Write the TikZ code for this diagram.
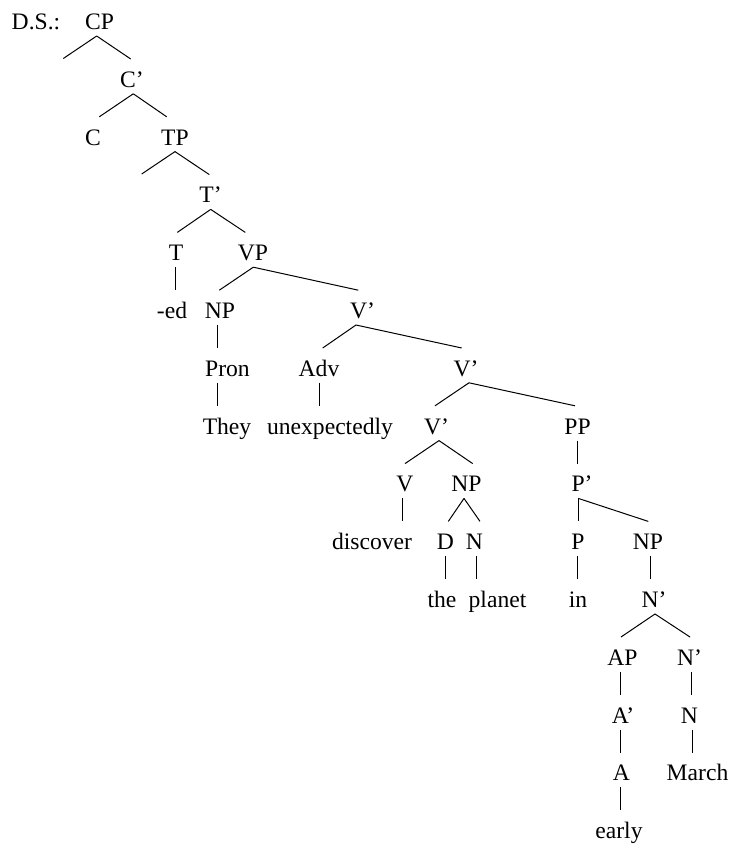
\documentclass[tikz,border=0pt]{standalone}
\usepackage{fontspec}
\setmainfont{Liberation Serif}
\begin{document}
\begin{tikzpicture}[x=1pt,y=-1pt,
  lbl/.style={anchor=base,inner sep=0pt,font=\fontsize{23.6}{28}\selectfont},
  edge/.style={line width=1pt,line cap=butt}]
\useasboundingbox (0,0) rectangle (732,848);
\def\rw#1{29.5+57.8*#1}
% row 0
\node[lbl] (ds) at (36,{\rw{0}}) {D.S.:};
\node[lbl] (cp) at (99.5,{\rw{0}}) {CP};
% row 1
\node[lbl] (cbar) at (132,{\rw{1}}) {C’};
% row 2
\node[lbl] (c) at (93,{\rw{2}}) {C};
\node[lbl] (tp) at (175,{\rw{2}}) {TP};
% row 3
\node[lbl] (tbar) at (210.5,{\rw{3}}) {T’};
% row 4
\node[lbl] (t) at (176,{\rw{4}}) {T};
\node[lbl] (vp) at (253,{\rw{4}}) {VP};
% row 5
\node[lbl] (ed) at (172,{\rw{5}}) {-ed};
\node[lbl] (np1) at (220,{\rw{5}}) {NP};
\node[lbl] (vbar1) at (362.5,{\rw{5}}) {V’};
% row 6
\node[lbl] (pron) at (227.5,{\rw{6}}) {Pron};
\node[lbl] (adv) at (319,{\rw{6}}) {Adv};
\node[lbl] (vbar2) at (466,{\rw{6}}) {V’};
% row 7
\node[lbl] (they) at (227,{\rw{7}}) {They};
\node[lbl] (unexp) at (330,{\rw{7}}) {unexpectedly};
\node[lbl] (vbar3) at (436.5,{\rw{7}}) {V’};
\node[lbl] (pp) at (577.5,{\rw{7}}) {PP};
% row 8
\node[lbl] (v) at (405,{\rw{8}}) {V};
\node[lbl] (np2) at (466.5,{\rw{8}}) {NP};
\node[lbl] (pbar) at (582,{\rw{8}}) {P’};
% row 9
\node[lbl] (discover) at (372,{\rw{9}}) {discover};
\node[lbl] (d) at (445.5,{\rw{9}}) {D};
\node[lbl] (n1) at (474.5,{\rw{9}}) {N};
\node[lbl] (p) at (578,{\rw{9}}) {P};
\node[lbl] (np3) at (648,{\rw{9}}) {NP};
% row 10
\node[lbl] (the) at (442,{\rw{10}}) {the};
\node[lbl] (planet) at (497.5,{\rw{10}}) {planet};
\node[lbl] (in) at (578,{\rw{10}}) {in};
\node[lbl] (nbar1) at (654,{\rw{10}}) {N’};
% row 11
\node[lbl] (ap) at (622.5,{\rw{11}}) {AP};
\node[lbl] (nbar2) at (689.5,{\rw{11}}) {N’};
% row 12
\node[lbl] (abar) at (623,{\rw{12}}) {A’};
\node[lbl] (n2) at (689.5,{\rw{12}}) {N};
% row 13
\node[lbl] (a) at (621.5,{\rw{13}}) {A};
\node[lbl] (march) at (697.5,{\rw{13}}) {March};
% row 14
\node[lbl] (early) at (619,{\rw{14}}) {early};
% empty specifier ends
\coordinate (cpspec) at (63.3,58.5);
\coordinate (tpspec) at (141.7,174);
% branches: \br{parent}{dx parent}{child}{dx child}
\newcommand\br[4]{\draw[edge] ([shift={(#2,6.5)}]#1.base) -- ([shift={(#4,-28.3)}]#3.base);}
\draw[edge] ([shift={(-2.8,6.5)}]cp.base) -- (cpspec);
\br{cp}{-2.8}{cbar}{-1.3}
\br{cbar}{1.3}{c}{6.3}
\br{cbar}{1.3}{tp}{-8.3}
\draw[edge] ([shift={(0,6.5)}]tp.base) -- (tpspec);
\br{tp}{0}{tbar}{-1.2}
\br{tbar}{0.2}{t}{1.3}
\br{tbar}{0.2}{vp}{-7.7}
\br{t}{-0.3}{ed}{3.7}
\br{vp}{0.3}{np1}{-0.7}
\br{vp}{0.3}{vbar1}{-4.2}
\br{np1}{-2.7}{pron}{-10.2}
\br{vbar1}{-6.5}{adv}{3.7}
\br{vbar1}{-6.5}{vbar2}{-4.3}
\br{pron}{-10.2}{they}{-9.7}
\br{adv}{0.3}{unexp}{-10.7}
\br{vbar2}{3}{vbar3}{-1.5}
\br{vbar2}{3}{pp}{-2.5}
\br{vbar3}{2.5}{v}{0}
\br{vbar3}{2.5}{np2}{6.2}
\br{pp}{0.2}{pbar}{-4.3}
\br{v}{-2.3}{discover}{30.7}
\br{np2}{-2.5}{d}{2.8}
\br{np2}{-2.5}{n1}{5.5}
\br{pbar}{-3.7}{p}{0.3}
\br{pbar}{-3.7}{np3}{0.3}
\br{d}{-0.5}{the}{3}
\br{n1}{2.2}{planet}{-20.8}
\br{p}{-0.5}{in}{-0.5}
\br{np3}{2}{nbar1}{-4}
\br{nbar1}{1}{ap}{-1.5}
\br{nbar1}{1}{nbar2}{0.5}
\br{ap}{-2.5}{abar}{-3}
\br{nbar2}{2.2}{n2}{2.2}
\br{abar}{-3}{a}{-1.5}
\br{n2}{2.5}{march}{-5.5}
\br{a}{-1.5}{early}{1}
\end{tikzpicture}
\end{document}
